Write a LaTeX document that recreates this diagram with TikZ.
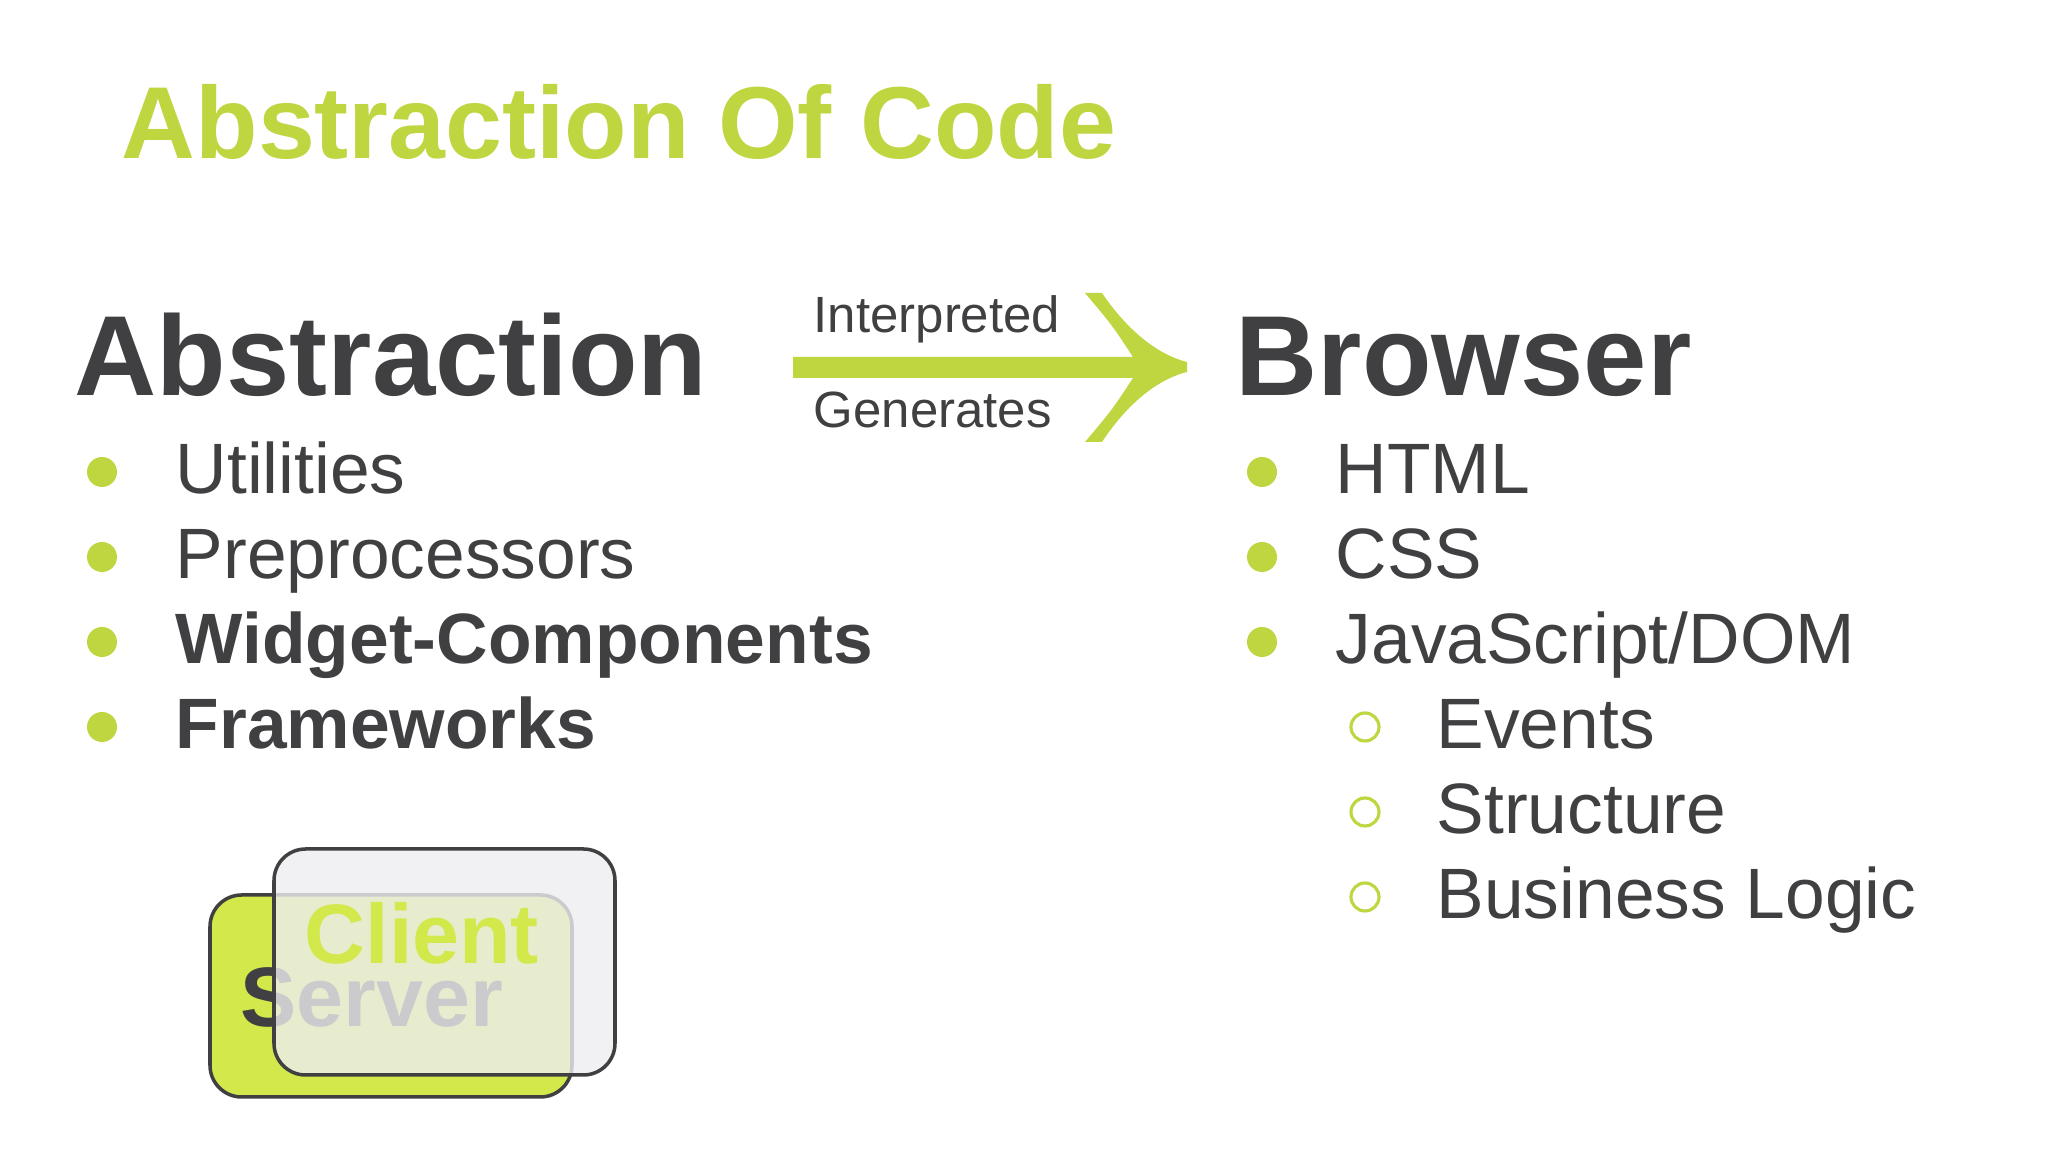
\documentclass[tikz,border=0pt]{standalone}
\usepackage{fontspec}
\setmainfont{Liberation Sans}
\usetikzlibrary{arrows.meta,positioning}
\definecolor{Ink}{HTML}{404042}
\definecolor{Lime}{HTML}{BFD641}
\definecolor{Bright}{HTML}{D2E84B}
\definecolor{Pane}{HTML}{EEEEF0}
\tikzset{txt/.style={anchor=base west,inner sep=0,text=Ink},item/.style={txt,font=\fontsize{20.3}{24}\selectfont},head/.style={txt,font=\fontsize{32.4}{38}\selectfont\bfseries},card/.style={draw=Ink,line width=1pt,rounded corners=9pt,inner sep=0},tag/.style={txt,font=\fontsize{24}{29}\selectfont\bfseries}}

\begin{document}
\begin{tikzpicture}
\useasboundingbox[fill=white] (0,0) rectangle (20.48,11.52);
\node[txt,text=Lime,font=\fontsize{29.1}{34}\selectfont\bfseries] (title) at (1.21,9.93) {Abstraction Of Code};
\node[head] (abs) at (0.74,7.56) {Abstraction};
\node[head] (browser) at (12.35,7.56) {Browser};
\fill[Lime] (7.93,7.74) -- (11.33,7.74) .. controls (11.12,7.42) .. (10.85,7.10) -- (11.02,7.10) .. controls (11.25,7.45) and (11.55,7.72) .. (11.87,7.80) -- (11.87,7.90) .. controls (11.55,7.98) and (11.25,8.25) .. (11.02,8.59) -- (10.85,8.59) .. controls (11.12,8.27) .. (11.33,7.95) -- (7.93,7.95) -- cycle;
\node[txt,font=\fontsize{14.5}{17}\selectfont] (interp) at (8.13,8.19) {Interpreted};
\node[txt,font=\fontsize{14.5}{17}\selectfont] (gen) at (8.13,7.24) {Generates};
\foreach \y/\t [count=\i] in {6.58/Utilities,5.73/Preprocessors,4.88/\textbf{Widget-Components},4.03/\textbf{Frameworks}} {
  \fill[Lime] (1.02,\y+.22) circle (.15);
  \node[item] (a\i) at (1.75,\y) {\t};
}
\foreach \y/\t [count=\i] in {6.58/HTML,5.73/CSS,4.88/{JavaScript/DOM}} {
  \fill[Lime] (12.62,\y+.22) circle (.15);
  \node[item] (b\i) at (13.35,\y) {\t};
}
\foreach \y/\t [count=\i] in {4.03/Events,3.18/Structure,2.33/Business Logic} {
  \draw[Lime,line width=.9pt] (13.65,\y+.22) circle (.14);
  \node[item] (c\i) at (14.36,\y) {\t};
}
\node[card,fill=Bright,minimum width=3.62cm,minimum height=2.02cm] (server) at (3.91,1.56) {};
\node[tag] (srv) at (2.40,1.25) {Server};
\node[card,fill=Pane,fill opacity=.8,minimum width=3.41cm,minimum height=2.26cm] (client) at (4.445,1.90) {};
\node[tag,text=Bright] (cli) at (3.04,1.88) {Client};
\end{tikzpicture}
\end{document}
